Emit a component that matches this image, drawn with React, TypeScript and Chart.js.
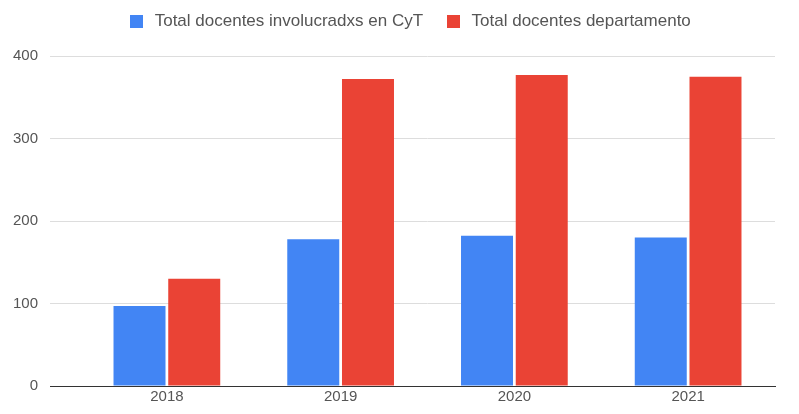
import React, { useEffect, useRef } from "react";
import { Chart, registerables } from "chart.js";

Chart.register(...registerables);

const years = ["2018", "2019", "2020", "2021"];
const involucrados = [97, 178, 182, 180];
const departamento = [130, 372, 377, 375];
const yTicks = [0, 100, 200, 300, 400];

const FONT = "'Liberation Sans', Arial, sans-serif";
const BLUE = "#4285F4";
const RED = "#EA4335";

function swatch(color: string) {
  const c = document.createElement("canvas");
  c.width = 13;
  c.height = 13;
  const g = c.getContext("2d")!;
  g.fillStyle = color;
  g.fillRect(0, 0, 13, 13);
  return c;
}

const legendShift = {
  id: "legendShift",
  afterLayout(chart: any) {
    const lg = chart.legend;
    if (!lg) return;
    const dx = 21;
    const dy = -16;
    lg.left += dx;
    lg.right += dx;
    lg.top += dy;
    lg.bottom += dy;
  },
};

export default function App() {
  const ref = useRef<HTMLCanvasElement | null>(null);
  useEffect(() => {
    document.body.style.margin = "0";
    const ctx = ref.current!;
    const chart = new Chart(ctx, {
      type: "bar",
      data: {
        labels: years,
        datasets: [
          {
            label: "Total docentes involucradxs en CyT",
            data: involucrados,
            backgroundColor: BLUE,
            pointStyle: swatch(BLUE),
            categoryPercentage: 0.63,
            barPercentage: 0.95,
          } as any,
          {
            label: "Total docentes departamento",
            data: departamento,
            backgroundColor: RED,
            pointStyle: swatch(RED),
            categoryPercentage: 0.63,
            barPercentage: 0.95,
          } as any,
        ],
      },
      plugins: [legendShift],
      options: {
        animation: false,
        responsive: false,
        maintainAspectRatio: false,
        layout: { padding: { left: 0, right: 24, top: 9, bottom: 6 } },
        plugins: {
          legend: {
            position: "top",
            labels: {
              usePointStyle: true,
              pointStyleWidth: 20,
              boxHeight: 13,
              padding: 20,
              color: "#555",
              font: { family: FONT, size: 17 },
            },
          },
          tooltip: { enabled: false },
        },
        scales: {
          x: {
            grid: { display: false, drawTicks: false },
            border: { display: true, color: "#333", width: 1 },
            ticks: {
              padding: 2,
              color: "#555",
              font: { family: FONT, size: 15 },
            },
          },
          y: {
            min: 0,
            max: 400,
            afterBuildTicks: (scale: any) => {
              scale.ticks = yTicks.map((v) => ({ value: v }));
            },
            afterFit: (scale: any) => {
              scale.width = 80;
            },
            grid: {
              color: (c: any) => (c.tick && c.tick.value === 0 ? "#333" : "#dddddd"),
              drawTicks: true,
              tickLength: 30,
            },
            border: { display: false },
            ticks: {
              padding: 12,
              color: "#555",
              font: { family: FONT, size: 15 },
            },
          },
        },
      },
    });
    return () => chart.destroy();
  }, []);
  return (
    <div style={{ position: "absolute", left: 0, top: 0, width: 799, height: 414, background: "#fff" }}>
      <canvas ref={ref} width={799} height={414} style={{ width: 799, height: 414 }} />
    </div>
  );
}
